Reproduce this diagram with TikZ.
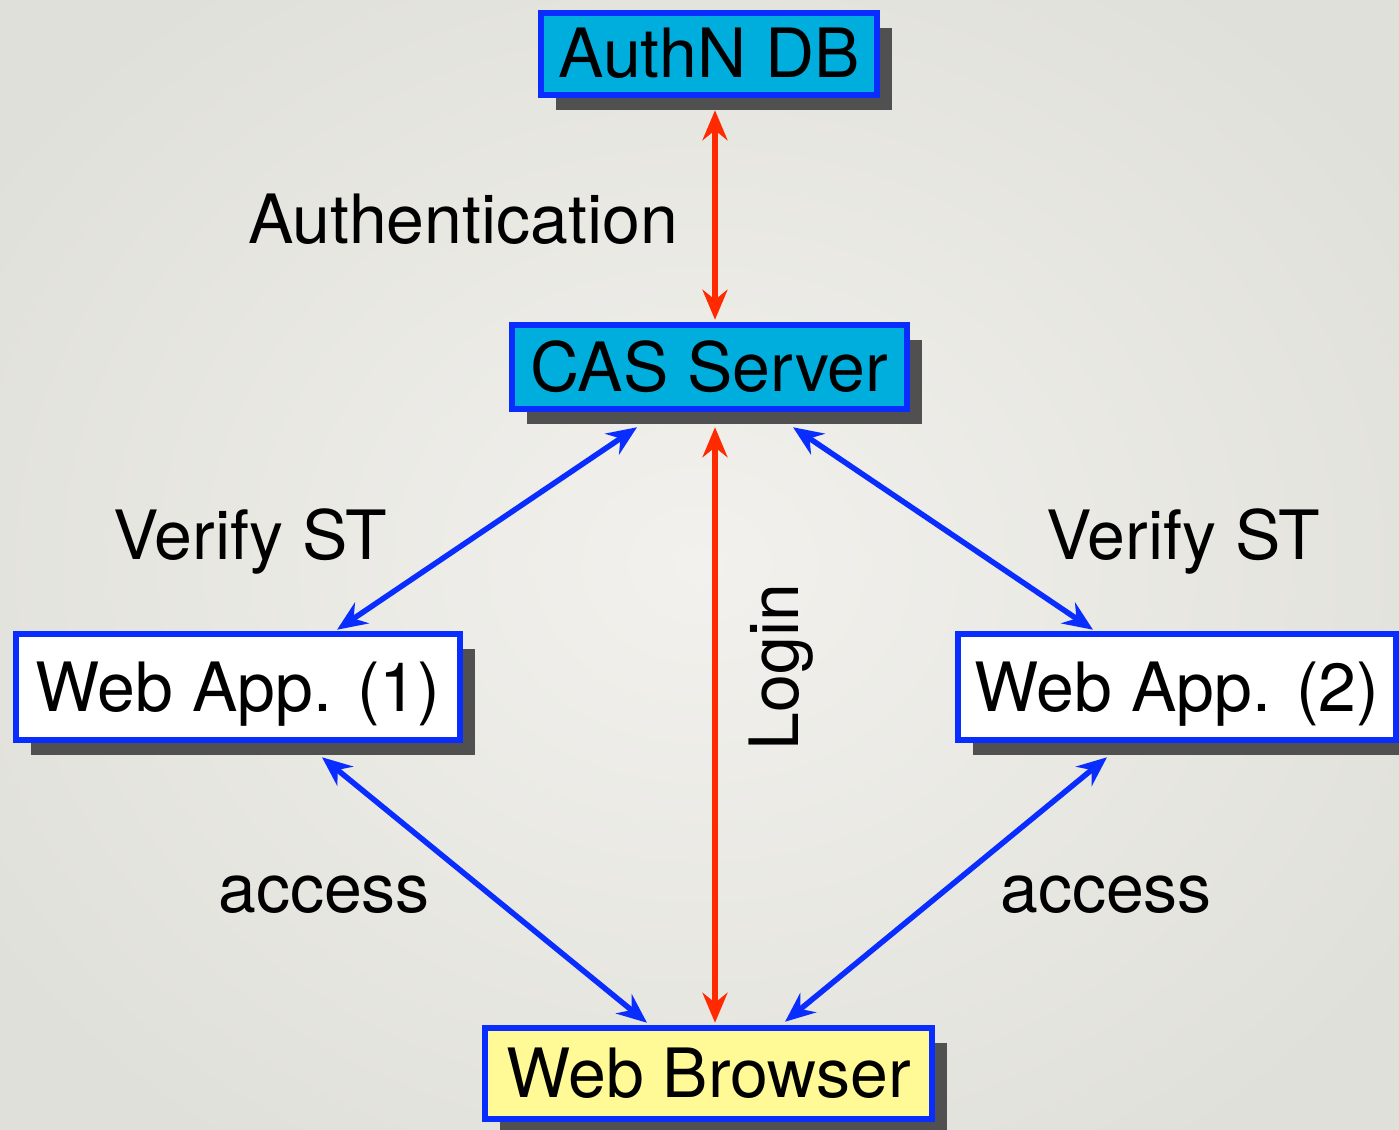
\documentclass[tikz,border=0pt]{standalone}
\usepackage{fontspec}
\setmainfont{TeX Gyre Heros}
\usetikzlibrary{arrows.meta,shadows}
\definecolor{bordblue}{RGB}{10,45,255}
\definecolor{cyanfill}{RGB}{0,174,222}
\definecolor{yelfill}{RGB}{255,250,150}
\definecolor{arrred}{RGB}{255,42,0}
\definecolor{shgray}{RGB}{80,80,80}
\definecolor{bgin}{RGB}{242,241,237}
\definecolor{bgout}{RGB}{224,224,218}
\newcommand{\bigfont}{\fontsize{68}{80}\selectfont}
\tikzset{
  box/.style={draw=bordblue, line width=6.5pt, inner sep=0pt, rectangle,
    text height=48pt, text depth=0pt, font=\bigfont,
    drop shadow={shadow xshift=15pt, shadow yshift=-15pt, fill=shgray, opacity=1}},
  lbl/.style={inner sep=0pt, text height=48pt, text depth=0pt, font=\bigfont},
  redarr/.style={draw=arrred, line width=5.5pt, {Stealth[length=30pt, width=25pt, inset=10pt]}-{Stealth[length=30pt, width=25pt, inset=10pt]}},
  bluearr/.style={draw=bordblue, line width=5.5pt, {Stealth[length=30pt, width=25pt, inset=10pt]}-{Stealth[length=30pt, width=25pt, inset=10pt]}}
}
\begin{document}
\begin{tikzpicture}[x=1pt,y=-1pt]
\useasboundingbox (0,0) rectangle (1399,1129);
\shade[inner color=bgin, outer color=bgout] (-150,-150) rectangle (1549,1279);

\node[box, fill=cyanfill, minimum width=336pt, minimum height=82pt] (authn) at (709,54) {AuthN DB};
\node[box, fill=cyanfill, minimum width=395pt, minimum height=84pt] (cas) at (709.5,367) {CAS Server};
\node[box, fill=white, minimum width=444pt, minimum height=106pt] (app1) at (238,687) {Web App. (1)};
\node[box, fill=white, minimum width=438pt, minimum height=106pt] (app2) at (1177,687) {Web App. (2)};
\node[box, fill=yelfill, minimum width=447pt, minimum height=91pt] (browser) at (708.5,1073.5) {Web Browser};

\draw[redarr] ([xshift=6pt,yshift=-12pt]authn.south) -- ([xshift=5.5pt,yshift=2pt]cas.north);
\draw[redarr] ([xshift=5.5pt,yshift=-15pt]cas.south) -- ([xshift=6.5pt,yshift=2pt]browser.north);
\draw[bluearr] ([xshift=-72.5pt,yshift=-15pt]cas.south) -- ([xshift=99pt,yshift=1pt]app1.north);
\draw[bluearr] ([xshift=83.5pt,yshift=-15pt]cas.south) -- ([xshift=-84pt,yshift=1pt]app2.north);
\draw[bluearr] ([xshift=84pt,yshift=-14pt]app1.south) -- ([xshift=-61.5pt,yshift=2pt]browser.north);
\draw[bluearr] ([xshift=-70pt,yshift=-14pt]app2.south) -- ([xshift=76.5pt,yshift=3pt]browser.north);

\node[lbl] (lauth) at (463,219) {Authentication};
\node[lbl] (lv1) at (250,535) {Verify ST};
\node[lbl] (lv2) at (1183,535) {Verify ST};
\node[lbl, rotate=90] (llogin) at (774,667) {Login};
\node[lbl] (la1) at (324,888) {access};
\node[lbl] (la2) at (1106,888) {access};
\end{tikzpicture}
\end{document}
